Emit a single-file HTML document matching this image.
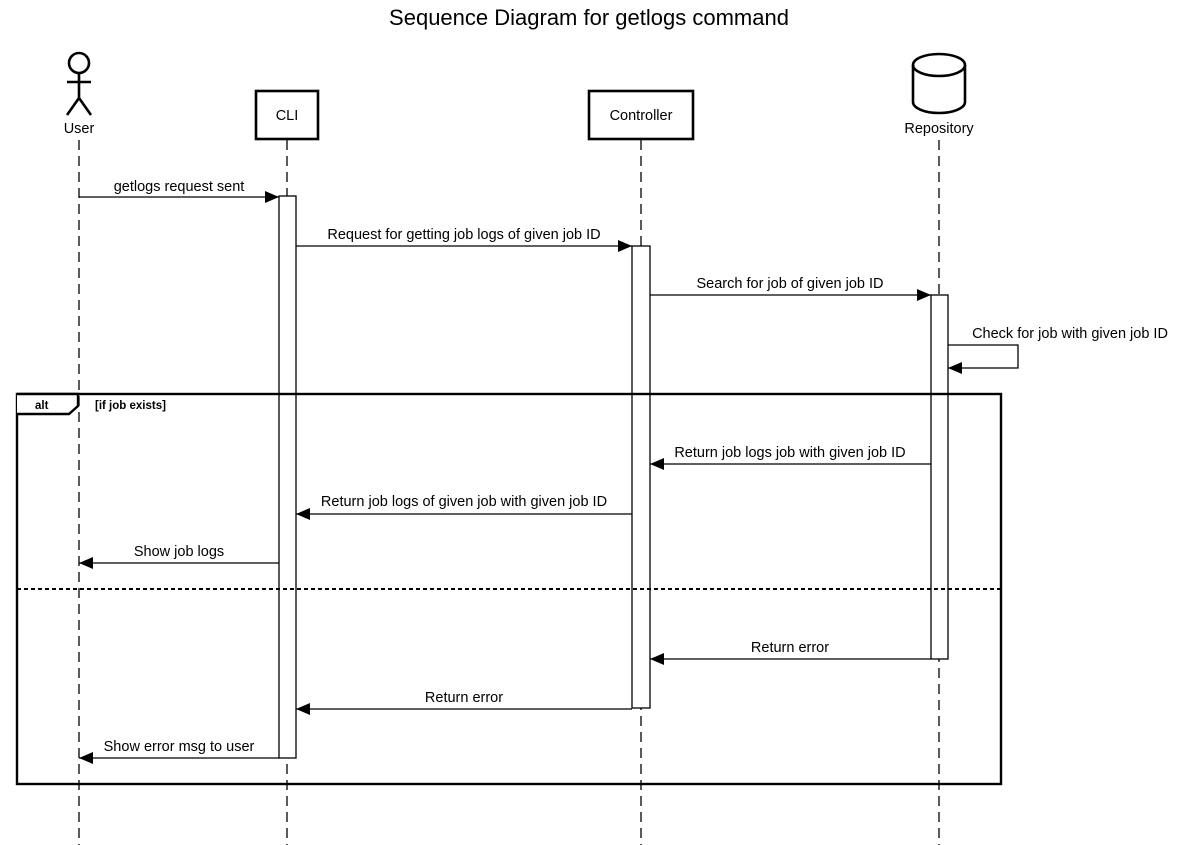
<!DOCTYPE html>
<html><head><meta charset="utf-8"><style>
html,body{margin:0;padding:0;background:#fff;}
svg{display:block;}
text{font-family:"Liberation Sans",Arial,sans-serif;fill:#000;}
</style></head><body>
<svg width="1178" height="845" viewBox="0 0 1178 845" xmlns="http://www.w3.org/2000/svg">
<defs>
<marker id="a" markerWidth="14" markerHeight="12" refX="14" refY="6" orient="auto" markerUnits="userSpaceOnUse">
<path d="M0,0 L14,6 L0,12 Z" fill="#000"/>
</marker>
</defs>
<text x="589" y="25" font-size="22" text-anchor="middle">Sequence Diagram for getlogs command</text>

<!-- lifelines -->
<g stroke="#000" stroke-width="1.3" stroke-dasharray="10,6" fill="none">
<line x1="79" y1="140" x2="79" y2="845"/>
<line x1="287" y1="140" x2="287" y2="845"/>
<line x1="641" y1="140" x2="641" y2="845"/>
<line x1="939" y1="140" x2="939" y2="845"/>
</g>

<!-- user actor -->
<g stroke="#000" stroke-width="2.6" fill="none">
<circle cx="79" cy="63" r="10"/>
<line x1="79" y1="73" x2="79" y2="98"/>
<line x1="67" y1="82" x2="91" y2="82"/>
<line x1="79" y1="98" x2="67" y2="115"/>
<line x1="79" y1="98" x2="91" y2="115"/>
</g>
<text x="79" y="133" font-size="14.5" text-anchor="middle">User</text>

<!-- CLI -->
<rect x="256" y="91" width="62" height="48" fill="#fff" stroke="#000" stroke-width="2.6"/>
<text x="287" y="120" font-size="14.5" text-anchor="middle">CLI</text>
<!-- Controller -->
<rect x="589" y="91" width="104" height="48" fill="#fff" stroke="#000" stroke-width="2.6"/>
<text x="641" y="120" font-size="14.5" text-anchor="middle">Controller</text>
<!-- Repository -->
<g stroke="#000" stroke-width="2.6" fill="#fff">
<path d="M913,65 L913,102 A26,11 0 0 0 965,102 L965,65"/>
<ellipse cx="939" cy="65" rx="26" ry="11"/>
</g>
<text x="939" y="133" font-size="14.5" text-anchor="middle">Repository</text>

<!-- activations -->
<g fill="#fff" stroke="#000" stroke-width="1.3">
<rect x="279" y="196" width="17" height="562"/>
<rect x="632" y="246" width="18" height="462"/>
<rect x="931" y="295" width="17" height="364"/>
</g>

<!-- messages -->
<g stroke="#000" stroke-width="1.3" fill="none" marker-end="url(#a)">
<line x1="79" y1="197" x2="279" y2="197"/>
<line x1="296" y1="246" x2="632" y2="246"/>
<line x1="650" y1="295" x2="931" y2="295"/>
<polyline points="948,345 1018,345 1018,368 948,368"/>
<line x1="931" y1="464" x2="650" y2="464"/>
<line x1="632" y1="514" x2="296" y2="514"/>
<line x1="279" y1="563" x2="79" y2="563"/>
<line x1="931" y1="659" x2="650" y2="659"/>
<line x1="632" y1="709" x2="296" y2="709"/>
<line x1="279" y1="758" x2="79" y2="758"/>
</g>
<g font-size="14.5" text-anchor="middle">
<text x="179" y="191">getlogs request sent</text>
<text x="464" y="239">Request for getting job logs of given job ID</text>
<text x="790" y="288">Search for job of given job ID</text>
<text x="1070" y="338">Check for job with given job ID</text>
<text x="790" y="457">Return job logs job with given job ID</text>
<text x="464" y="506">Return job logs of given job with given job ID</text>
<text x="179" y="556">Show job logs</text>
<text x="790" y="652">Return error</text>
<text x="464" y="702">Return error</text>
<text x="179" y="751">Show error msg to user</text>
</g>

<!-- alt frame -->
<rect x="17" y="394" width="984" height="390" fill="none" stroke="#000" stroke-width="2.4"/>
<path d="M17,394 L78,394 L78,406 L69,414 L17,414" fill="#fff" stroke="#000" stroke-width="2.4"/>
<text x="35" y="409" font-size="11.5" font-weight="bold">alt</text>
<text x="95" y="409" font-size="11.5" font-weight="bold">[if job exists]</text>
<line x1="17" y1="589" x2="1001" y2="589" stroke="#000" stroke-width="2" stroke-dasharray="4,3"/>
</svg>
</body></html>
